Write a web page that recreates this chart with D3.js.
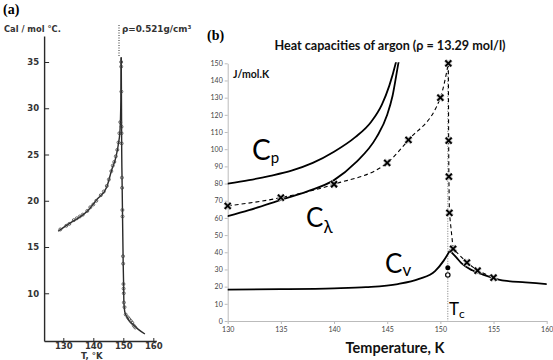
<!DOCTYPE html>
<html>
<head>
<meta charset="utf-8">
<script src="https://cdn.jsdelivr.net/npm/d3@7"></script>
<style>
  body { margin: 0; background: #fff; }
  svg { display: block; }
</style>
</head>
<body>
<div id="chart"></div>
<script>
// ---- panel (a): scanned calorimetry data, Cal/mol °C vs T (°K)
const aLeftCurve = [[128.3,16.7],[130,17.1],[133.3,17.8],[137.8,18.8],[141.1,20.1],[144.5,21.5],[146.1,23.3],[147.6,24.8],[148.3,26],[148.9,27.6],[149.2,31],[149.3,35.5]];
const aRightCurve = [[149.31,35.5],[149.4,30],[149.45,26.5],[149.6,22],[149.8,17],[149.95,13.5],[150.1,11],[150.2,9],[150.5,8],[151.1,7.5],[152,7],[153.3,6.6],[155,6.1],[157.2,5.6]];
const aLeftPts = [[129,16.9],[131,17.3],[132,17.5],[133.5,17.9],[134.5,18.1],[135.5,18.3],[136.5,18.5],[138,18.9],[139,19.3],[140,19.6],[141,20.0],[142.5,20.6],[143.5,21.0],[144.5,21.6],[145.2,22.3],[146,23.2],[146.5,23.8],[147,24.2],[147.5,24.8],[148,25.5],[148.4,26.3],[148.7,27.3],[149,28.5]];
const aRightPts = [[149.3,35],[149.3,34.5],[149.35,31.8],[149.4,28],[149.4,27.3],[149.45,26.2],[149.55,22.5],[149.6,21.4],[149.7,19],[149.75,18.3],[149.9,14],[149.95,13.2],[150.05,11],[150.1,10.5],[150.15,10],[150.2,9],[150.4,8.5],[150.8,7.7],[151.5,7.4],[152,7.2],[152.5,7],[153,6.8],[153.5,6.5],[154,6.3]];
const aYTicks = [10, 15, 20, 25, 30, 35];
const aXTicks = [130, 140, 150, 160];

// ---- panel (b): heat capacities of argon, J/mol.K vs Temperature, K
const cpCurve = [[130,80],[132,82],[134,84.5],[136,87.5],[138,92],[140,98.5],[142,107],[143.5,116],[144.5,126],[145.2,137],[145.8,150],[146.1,158]];
const clCurve = [[130,61],[132,64.5],[135,70.5],[137.5,75.5],[140,82],[142,92],[144,107],[145,120],[145.5,131],[146.05,150],[146.3,158]];
const cvLeft = [[130,18.3],[135,18.5],[140,19],[143,19.7],[146,21.5],[148,24.5],[149.5,29],[150.3,35],[150.9,41]];
const cvRight = [[150.9,41],[151.5,37],[152,33.5],[153,29.5],[154,27],[155,25],[156,23.5],[158,22.5],[160,21.5]];
const expRise = [[130,67],[135,71.8],[140,79.6],[145,92.1],[147,105.4],[150,130],[150.75,150]];
const expFall = [[150.75,150],[150.78,105],[150.8,84],[150.85,63],[151.2,42],[152.5,34],[153.5,29.3],[155,25.2]];
const dotFilled = [[150.7,31]];
const dotOpen = [[150.7,26.8]];
const tc = 150.7;
const bYTicks = d3.range(0, 151, 10);
const bXTicks = [130, 135, 140, 145, 150, 155, 160];

const W = 553, H = 360;
const svg = d3.select("#chart").append("svg").attr("width", W).attr("height", H);

// ================= panel (a)
const xa = d3.scaleLinear().domain([123.6, 161]).range([44.1, 156.3]);
const ya = d3.scaleLinear().domain([4.84, 37.8]).range([341, 36.1]);
const ink = "#2a2a2a";

svg.append("text").attr("x", 3).attr("y", 14)
  .style("font", "bold 14px 'Liberation Serif', serif").text("(a)");

const ay = svg.append("g").attr("transform", `translate(${xa(123.6)},0)`)
  .call(d3.axisLeft(ya).tickValues(aYTicks).tickSize(-5).tickSizeOuter(0).tickPadding(5));
const ax = svg.append("g").attr("transform", `translate(0,${ya(4.84)})`)
  .call(d3.axisBottom(xa).tickValues(aXTicks).tickSize(-3).tickSizeOuter(0).tickPadding(2));
[ay, ax].forEach(g => {
  g.select(".domain").attr("stroke", ink).attr("stroke-width", 1.4);
  g.selectAll(".tick line").attr("stroke", ink).attr("stroke-width", 1);
  g.selectAll(".tick text").attr("fill", "#333")
    .style("font", "bold 8.5px 'DejaVu Sans', sans-serif");
});

svg.append("text").attr("x", 4).attr("y", 32).attr("fill", "#333")
  .style("font", "bold 8.3px 'DejaVu Sans', sans-serif").text("Cal / mol °C.");
svg.append("text").attr("x", 122).attr("y", 32).attr("fill", "#333")
  .style("font", "bold 8.8px 'DejaVu Sans', sans-serif").text("ρ=0.521g/cm³");
svg.append("text").attr("x", 81).attr("y", 359).attr("fill", "#333")
  .style("font", "bold 8.5px 'DejaVu Sans', sans-serif").text("T, °K");

svg.append("line").attr("x1", 119).attr("x2", 119).attr("y1", 25).attr("y2", 56)
  .attr("stroke", ink).attr("stroke-width", 1).attr("stroke-dasharray", "1,1.5");

const lineA = d3.line().x(d => xa(d[0])).y(d => ya(d[1])).curve(d3.curveMonotoneX);
[aLeftCurve, aRightCurve].forEach(c => {
  svg.append("path").datum(c).attr("d", lineA)
    .attr("fill", "none").attr("stroke", ink).attr("stroke-width", 1.4);
});
svg.append("g").selectAll("circle").data(aLeftPts.concat(aRightPts)).join("circle")
  .attr("cx", d => xa(d[0])).attr("cy", d => ya(d[1])).attr("r", 1.5)
  .attr("fill", "none").attr("stroke", "#444").attr("stroke-width", 0.8);

// ================= panel (b)
const xb = d3.scaleLinear().domain([130, 160]).range([227.7, 546.7]);
const yb = d3.scaleLinear().domain([0, 150]).range([321, 63.3]);

svg.append("text").attr("x", 207).attr("y", 40)
  .style("font", "bold 14px 'Liberation Serif', serif").text("(b)");
svg.append("text").attr("x", 390).attr("y", 50).attr("text-anchor", "middle")
  .style("font", "bold 12.6px Lato, sans-serif").attr("fill", "#111")
  .text("Heat capacities of argon (ρ = 13.29 mol/l)");

const by = svg.append("g").attr("transform", `translate(${xb(130)},0)`)
  .call(d3.axisLeft(yb).tickValues(bYTicks).tickSize(3).tickSizeOuter(0).tickPadding(2));
const bx = svg.append("g").attr("transform", `translate(0,${yb(0)})`)
  .call(d3.axisBottom(xb).tickValues(bXTicks).tickSize(3).tickSizeOuter(0).tickPadding(3));
[by, bx].forEach(g => {
  g.select(".domain").attr("stroke", "#bbb").attr("stroke-width", 1);
  g.selectAll(".tick line").attr("stroke", "#bbb");
  g.selectAll(".tick text").attr("fill", "#444")
    .style("font", "7px Lato, sans-serif");
});

svg.append("text").attr("x", 395).attr("y", 353).attr("text-anchor", "middle")
  .style("font", "bold 14.5px Lato, sans-serif").attr("fill", "#111").text("Temperature, K");
svg.append("text").attr("x", 233).attr("y", 78)
  .style("font", "bold 10.5px Lato, sans-serif").attr("fill", "#111").text("J/mol.K");

svg.append("defs").append("clipPath").attr("id", "clipb")
  .append("rect").attr("x", xb(130)).attr("y", yb(150) - 1)
  .attr("width", xb(160) - xb(130)).attr("height", yb(0) - yb(150) + 1);

const plot = svg.append("g").attr("clip-path", "url(#clipb)");

// Tc dotted line
plot.append("line").attr("x1", xb(tc)).attr("x2", xb(tc))
  .attr("y1", yb(150)).attr("y2", yb(0))
  .attr("stroke", "#777").attr("stroke-width", 1).attr("stroke-dasharray", "1,1.5");

const lineB = d3.line().x(d => xb(d[0])).y(d => yb(d[1])).curve(d3.curveMonotoneX);
[cpCurve, clCurve, cvLeft, cvRight].forEach(c => {
  plot.append("path").datum(c).attr("d", lineB)
    .attr("fill", "none").attr("stroke", "#000").attr("stroke-width", 1.8)
    .attr("stroke-linejoin", "round").attr("stroke-linecap", "round");
});
plot.append("path").datum(expRise).attr("d", lineB)
  .attr("fill", "none").attr("stroke", "#000").attr("stroke-width", 1.1)
  .attr("stroke-dasharray", "4,3");
plot.append("path").datum(expFall).attr("d", d3.line().x(d => xb(d[0])).y(d => yb(d[1])))
  .attr("fill", "none").attr("stroke", "#000").attr("stroke-width", 1.1)
  .attr("stroke-dasharray", "4,3");

const crossPts = expRise.concat(expFall.slice(1));
const xMark = "M-3,-3L3,3M-3,3L3,-3";
svg.append("g").selectAll("path").data(crossPts).join("path")
  .attr("transform", d => `translate(${xb(d[0])},${yb(d[1])})`)
  .attr("d", xMark).attr("stroke", "#bbb").attr("stroke-width", 3.5).attr("fill", "none");
svg.append("g").selectAll("path").data(crossPts).join("path")
  .attr("transform", d => `translate(${xb(d[0])},${yb(d[1])})`)
  .attr("d", xMark).attr("stroke", "#000").attr("stroke-width", 1.8).attr("fill", "none");

svg.append("g").selectAll("circle").data(dotFilled).join("circle")
  .attr("cx", d => xb(d[0])).attr("cy", d => yb(d[1])).attr("r", 2.5).attr("fill", "#000");
svg.append("g").selectAll("circle").data(dotOpen).join("circle")
  .attr("cx", d => xb(d[0])).attr("cy", d => yb(d[1])).attr("r", 2.2)
  .attr("fill", "#fff").attr("stroke", "#000").attr("stroke-width", 1.2);

// curve labels
function subLabel(x, y, big, sub, bigSize, subSize, dy) {
  const t = svg.append("text").attr("x", x).attr("y", y)
    .style("font-family", "Lato, sans-serif").attr("fill", "#000");
  t.append("tspan").style("font-size", bigSize + "px").text(big);
  t.append("tspan").style("font-size", subSize + "px").attr("dy", dy).text(sub);
}
subLabel(252, 160, "C", "p", 28, 15, 3);
subLabel(306, 227, "C", "λ", 26, 17, 6);
subLabel(385, 273, "C", "v", 26, 17, 3);
subLabel(449, 315, "T", "c", 17, 12, 3);
</script>
</body>
</html>
